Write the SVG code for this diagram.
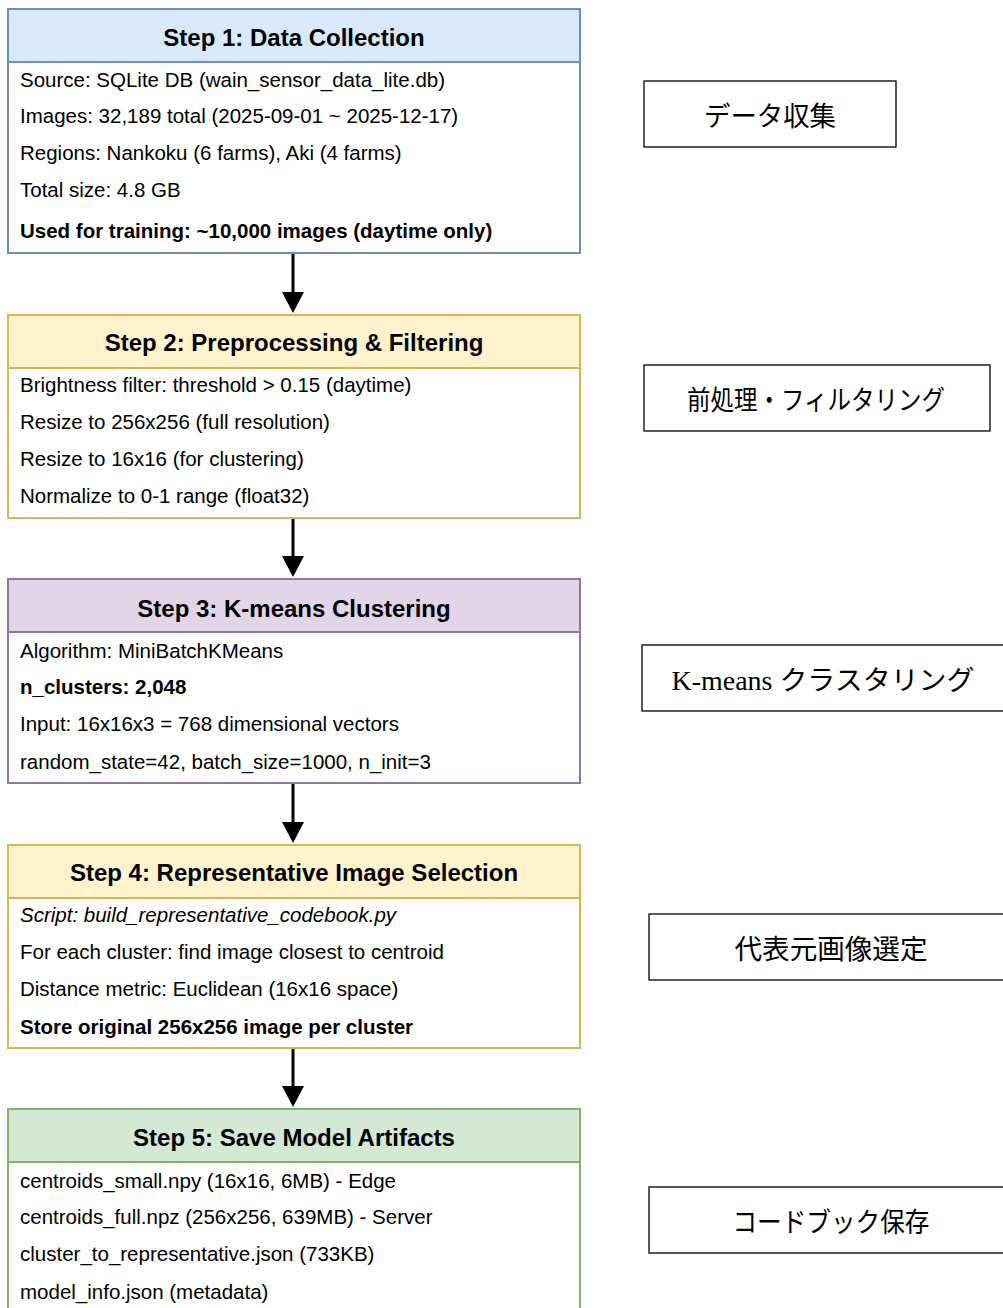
<svg xmlns="http://www.w3.org/2000/svg" width="1003" height="1308" viewBox="0 0 1003 1308">
<defs>
<style>
.body{fill:#ffffff;stroke-width:2}
.title{font-family:"Liberation Sans",Arial,sans-serif;font-size:24px;font-weight:bold;fill:#000;text-anchor:middle}
.t{font-family:"Liberation Sans",Arial,sans-serif;font-size:20.5px;fill:#000}
.b{font-weight:bold}
.i{font-style:italic}
.jp{font-family:"Liberation Serif","Noto Sans CJK JP",serif;font-size:27px;fill:#000;text-anchor:middle}
.lbl{fill:#fff;stroke:#000;stroke-width:1.3}
.conn{stroke:#000;stroke-width:3;fill:none}
.head{fill:#000}
</style>
</defs>
<rect width="1003" height="1308" fill="#fff"/>

<g id="step1">
<rect x="8" y="9" width="572" height="244" class="body" stroke="#6c8ebf"/>
<rect x="8" y="9" width="572" height="53" fill="#dae8fc" stroke="#6c8ebf" stroke-width="2"/>
<text x="294" y="46" class="title">Step 1: Data Collection</text>
<text x="20" y="87" class="t">Source: SQLite DB (wain_sensor_data_lite.db)</text>
<text x="20" y="123" class="t">Images: 32,189 total (2025-09-01 ~ 2025-12-17)</text>
<text x="20" y="160" class="t">Regions: Nankoku (6 farms), Aki (4 farms)</text>
<text x="20" y="197" class="t">Total size: 4.8 GB</text>
<text x="20" y="238" class="t b">Used for training: ~10,000 images (daytime only)</text>
</g>

<g id="step2">
<rect x="8" y="315" width="572" height="203" class="body" stroke="#d6b656"/>
<rect x="8" y="315" width="572" height="53" fill="#fff2cc" stroke="#d6b656" stroke-width="2"/>
<text x="294" y="351" class="title">Step 2: Preprocessing &amp; Filtering</text>
<text x="20" y="392" class="t">Brightness filter: threshold &gt; 0.15 (daytime)</text>
<text x="20" y="429" class="t">Resize to 256x256 (full resolution)</text>
<text x="20" y="466" class="t">Resize to 16x16 (for clustering)</text>
<text x="20" y="503" class="t">Normalize to 0-1 range (float32)</text>
</g>

<g id="step3">
<rect x="8" y="579" width="572" height="204" class="body" stroke="#9673a6"/>
<rect x="8" y="579" width="572" height="53" fill="#e1d5e7" stroke="#9673a6" stroke-width="2"/>
<text x="294" y="617" class="title">Step 3: K-means Clustering</text>
<text x="20" y="658" class="t">Algorithm: MiniBatchKMeans</text>
<text x="20" y="694" class="t b">n_clusters: 2,048</text>
<text x="20" y="731" class="t">Input: 16x16x3 = 768 dimensional vectors</text>
<text x="20" y="769" class="t">random_state=42, batch_size=1000, n_init=3</text>
</g>

<g id="step4">
<rect x="8" y="845" width="572" height="203" class="body" stroke="#d6b656"/>
<rect x="8" y="845" width="572" height="53" fill="#fff2cc" stroke="#d6b656" stroke-width="2"/>
<text x="294" y="881" class="title">Step 4: Representative Image Selection</text>
<text x="20" y="922" class="t i">Script: build_representative_codebook.py</text>
<text x="20" y="959" class="t">For each cluster: find image closest to centroid</text>
<text x="20" y="996" class="t">Distance metric: Euclidean (16x16 space)</text>
<text x="20" y="1034" class="t b">Store original 256x256 image per cluster</text>
</g>

<g id="step5">
<rect x="8" y="1109" width="572" height="210" class="body" stroke="#82b366"/>
<rect x="8" y="1109" width="572" height="53" fill="#d5e8d4" stroke="#82b366" stroke-width="2"/>
<text x="294" y="1146" class="title">Step 5: Save Model Artifacts</text>
<text x="20" y="1188" class="t">centroids_small.npy (16x16, 6MB) - Edge</text>
<text x="20" y="1224" class="t">centroids_full.npz (256x256, 639MB) - Server</text>
<text x="20" y="1261" class="t">cluster_to_representative.json (733KB)</text>
<text x="20" y="1299" class="t">model_info.json (metadata)</text>
</g>

<g id="label1">
<rect x="644" y="81" width="252" height="66" class="lbl"/>
<text x="770" y="126" class="jp" textLength="132" lengthAdjust="spacingAndGlyphs">データ収集</text>
</g>
<g id="label2">
<rect x="644" y="365" width="346" height="66" class="lbl"/>
<text x="816" y="410" class="jp" textLength="258" lengthAdjust="spacingAndGlyphs">前処理・フィルタリング</text>
</g>
<g id="label3">
<rect x="642" y="645" width="370" height="66" class="lbl"/>
<text x="823" y="690" class="jp" textLength="303" lengthAdjust="spacingAndGlyphs">K-means クラスタリング</text>
</g>
<g id="label4">
<rect x="649" y="914" width="370" height="66" class="lbl"/>
<text x="831" y="959" class="jp" textLength="193" lengthAdjust="spacingAndGlyphs">代表元画像選定</text>
</g>
<g id="label5">
<rect x="649" y="1187" width="370" height="66" class="lbl"/>
<text x="831" y="1232" class="jp" textLength="197" lengthAdjust="spacingAndGlyphs">コードブック保存</text>
</g>

<g id="connectors">
<line x1="293" y1="254" x2="293" y2="296" class="conn"/>
<polygon points="282,292 304,292 293,313" class="head"/>
<line x1="293" y1="519" x2="293" y2="560" class="conn"/>
<polygon points="282,556 304,556 293,577" class="head"/>
<line x1="293" y1="784" x2="293" y2="826" class="conn"/>
<polygon points="282,822 304,822 293,843" class="head"/>
<line x1="293" y1="1049" x2="293" y2="1090" class="conn"/>
<polygon points="282,1086 304,1086 293,1107" class="head"/>
</g>
</svg>
